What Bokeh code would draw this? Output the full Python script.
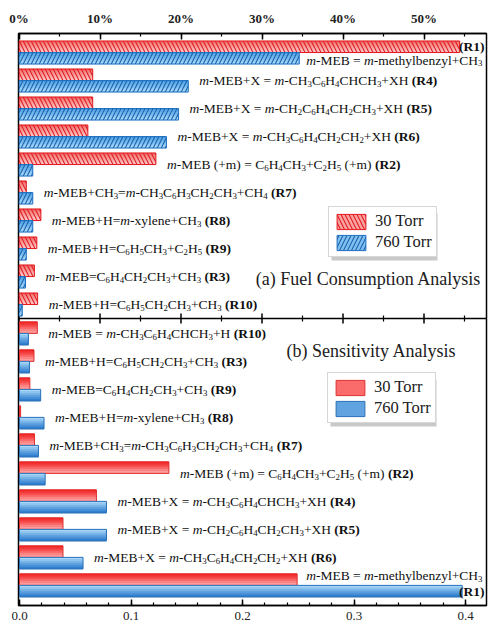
import numpy as np
from bokeh.plotting import figure
from bokeh.models import (Range1d, LinearAxis, SingleIntervalTicker, PrintfTickFormatter,
                          ColumnDataSource, Span, Legend, LegendItem)
from bokeh.core.properties import value
from bokeh.embed import file_html
from bokeh.resources import INLINE

# ---------------------------------------------------------------- data
pressures = ["30 Torr", "760 Torr"]

# (a) fuel consumption (% of m-MEB), reactions from top to bottom
fc_tags = ["R1", "R4", "R5", "R6", "R2", "R7", "R8", "R9", "R3", "R10"]
fc_30 = [54.4, 9.1, 9.1, 8.5, 16.9, 0.9, 2.7, 2.2, 1.9, 2.3]
fc_760 = [34.6, 20.9, 19.7, 18.2, 1.7, 1.7, 1.7, 0.9, 0.8, 0.4]
fc_eqs = [
    "*m*-MEB = *m*-methylbenzyl+CH_3",
    "*m*-MEB+X = *m*-CH_3C_6H_4CHCH_3+XH",
    "*m*-MEB+X = *m*-CH_2C_6H_4CH_2CH_3+XH",
    "*m*-MEB+X = *m*-CH_3C_6H_4CH_2CH_2+XH",
    "*m*-MEB (+m) = C_6H_4CH_3+C_2H_5 (+m)",
    "*m*-MEB+CH_3=*m*-CH_3C_6H_3CH_2CH_3+CH_4",
    "*m*-MEB+H=*m*-xylene+CH_3",
    "*m*-MEB+H=C_6H_5CH_3+C_2H_5",
    "*m*-MEB=C_6H_4CH_2CH_3+CH_3",
    "*m*-MEB+H=C_6H_5CH_2CH_3+CH_3",
]

# (b) sensitivity coefficients, reactions from top to bottom
sa_tags = ["R10", "R3", "R9", "R8", "R7", "R2", "R4", "R5", "R6", "R1"]
sa_30 = [0.016, 0.013, 0.0093, 0.001, 0.0135, 0.134, 0.069, 0.039, 0.039, 0.249]
sa_760 = [0.008, 0.009, 0.019, 0.022, 0.017, 0.023, 0.078, 0.078, 0.057, 0.397]
sa_eqs = [
    "*m*-MEB = *m*-CH_3C_6H_4CHCH_3+H",
    "*m*-MEB+H=C_6H_5CH_2CH_3+CH_3",
    "*m*-MEB=C_6H_4CH_2CH_3+CH_3",
    "*m*-MEB+H=*m*-xylene+CH_3",
    "*m*-MEB+CH_3=*m*-CH_3C_6H_3CH_2CH_3+CH_4",
    "*m*-MEB (+m) = C_6H_4CH_3+C_2H_5 (+m)",
    "*m*-MEB+X = *m*-CH_3C_6H_4CHCH_3+XH",
    "*m*-MEB+X = *m*-CH_2C_6H_4CH_2CH_3+XH",
    "*m*-MEB+X = *m*-CH_3C_6H_4CH_2CH_2+XH",
    "*m*-MEB = *m*-methylbenzyl+CH_3",
]

panel_titles = ["(a) Fuel Consumption Analysis", "(b) Sensitivity Analysis"]

# ---------------------------------------------------------------- geometry
FONT = "Liberation Serif"
LEFT, TOP = 18, 33
FRAME_W, FRAME_H = 468, 572
PITCH = 28.0                      # pixels per reaction row
ROWS = FRAME_H / PITCH
DIV = 10.18                       # divider between the two panels (rows)
TOP0, BOT0 = 0.68, 10.71          # centre of the first group in each panel
BAR_H = 0.41

SENS_START = -1 / 1115
SENS_END = SENS_START + FRAME_W / 1115
PCT_START = -0.5 / 8.1
PCT_END = PCT_START + FRAME_W / 8.1


def px_x(px):
    return SENS_START + (px - LEFT) / FRAME_W * (SENS_END - SENS_START)


def px_y(py):
    return (py - TOP) / PITCH


p = figure(frame_width=FRAME_W, frame_height=FRAME_H,
           min_border_left=LEFT, min_border_right=2, min_border_top=TOP, min_border_bottom=20,
           x_range=Range1d(SENS_START, SENS_END), y_range=Range1d(ROWS, 0),
           y_axis_location=None, output_backend="svg", toolbar_location=None,
           background_fill_color="white", border_fill_color="white")
p.extra_x_ranges = {"pct": Range1d(PCT_START, PCT_END)}
p.xgrid.visible = False
p.ygrid.visible = False
p.outline_line_color = "black"
p.outline_line_width = 1.5

# bottom axis: sensitivity coefficient
bax = p.below[0]
bax.ticker = SingleIntervalTicker(interval=0.1, num_minor_ticks=5)
bax.formatter = PrintfTickFormatter(format="%.1f")
# top axis: fuel consumption percentage
tax = LinearAxis(x_range_name="pct",
                 ticker=SingleIntervalTicker(interval=10, num_minor_ticks=2),
                 formatter=PrintfTickFormatter(format="%d%%"))
p.add_layout(tax, "above")
for ax, style in ((bax, "normal"), (tax, "bold")):
    ax.axis_line_width = 1.5
    ax.major_tick_line_width = 1.5
    ax.minor_tick_line_width = 1.2
    ax.major_tick_in = 6
    ax.major_tick_out = 0
    ax.minor_tick_in = 3
    ax.minor_tick_out = 0
    ax.major_label_text_font = FONT
    ax.major_label_text_font_size = "13px"
    ax.major_label_text_font_style = style
    ax.major_label_text_color = "#222222"
bax.major_label_standoff = 6
tax.major_label_standoff = 8

# divider between panels, carrying the percentage ticks
p.add_layout(Span(location=DIV, dimension="width", line_color="black", line_width=1.5))
maj = np.arange(0, PCT_END, 10)
mnr = np.arange(5, PCT_END, 10)
p.segment(x0=maj, x1=maj, y0=DIV - 5 / PITCH, y1=DIV + 5 / PITCH,
          line_color="black", line_width=1.5, x_range_name="pct")
p.segment(x0=mnr, x1=mnr, y0=DIV - 3 / PITCH, y1=DIV + 3 / PITCH,
          line_color="black", line_width=1.2, x_range_name="pct")


# ---------------------------------------------------------------- bars
def mix(c1, c2, t):
    a = [int(c1[i:i + 2], 16) for i in (1, 3, 5)]
    b = [int(c2[i:i + 2], 16) for i in (1, 3, 5)]
    return "#%02x%02x%02x" % tuple(round(a[k] + (b[k] - a[k]) * t) for k in range(3))


def shaded_bars(ys, vals, c_top, c_bot, line, n=6, rng="default", **hatch):
    ys = np.asarray(ys, dtype=float)
    vals = np.asarray(vals, dtype=float)
    h = BAR_H / n
    strips = []
    for k in range(n):
        yk = ys - BAR_H / 2 + (k + 0.5) * h
        strips.append(p.hbar(y=yk, left=0, right=vals, height=h * 1.3,
                             fill_color=mix(c_top, c_bot, k / (n - 1)), line_color=None,
                             x_range_name=rng))
    edge = p.hbar(y=ys, left=0, right=vals, height=BAR_H, fill_color=None,
                  line_color=line, line_width=1, x_range_name=rng, **hatch)
    return strips[n // 2], edge


top_c = TOP0 + np.arange(len(fc_tags))
bot_c = BOT0 + np.arange(len(sa_tags))

r30a = shaded_bars(top_c - BAR_H / 2, fc_30, "#f37070", "#fcc4c4", "#e4181c", rng="pct",
                   hatch_pattern="left_diagonal_line", hatch_color="#e01c20",
                   hatch_scale=8, hatch_weight=1.1)
r760a = shaded_bars(top_c + BAR_H / 2, fc_760, "#4b9fe2", "#a6d6f8", "#1f6fc0", rng="pct",
                    hatch_pattern="right_diagonal_line", hatch_color="#1a62b0",
                    hatch_scale=8, hatch_weight=1.1)
r30b = shaded_bars(bot_c - BAR_H / 2, sa_30, "#f22424", "#ff9a9a", "#e03030")
r760b = shaded_bars(bot_c + BAR_H / 2, sa_760, "#a8d6f8", "#3280d0", "#2a70b8")

# ---------------------------------------------------------------- reaction labels
REG = {' ': 250, '(': 333, ')': 333, '+': 564, '-': 333, '=': 564, '.': 250, 'A': 722,
       'B': 667, 'C': 667, 'E': 611, 'H': 722, 'M': 889, 'R': 667, 'X': 722, 'T': 611,
       'F': 556, 'S': 556, 'a': 444, 'b': 500, 'c': 444, 'e': 444, 'h': 500, 'l': 278,
       'm': 778, 'n': 500, 't': 278, 'x': 500, 'y': 500, 'z': 444, 'i': 278, 'o': 500,
       'r': 333, 's': 389, 'p': 500, 'u': 500, 'v': 500, 'd': 500, 'g': 500, 'f': 333}
BOLD = {'(': 333, ')': 333, 'R': 722}
ITAL = {'m': 722}
SIZE = 13.5
SUB = 0.65
NBSP = "\u00a0"


def char_w(ch, style):
    table = {"bold": BOLD, "italic": ITAL}.get(style, REG)
    return table.get(ch, REG.get(ch, 500))


def compose(markup, tag):
    raw, italic, i = [], False, 0
    while i < len(markup):
        c = markup[i]
        if c == "*":
            italic = not italic
            i += 1
            continue
        if c == "_":
            raw.append((markup[i + 1], "sub"))
            i += 2
            continue
        raw.append((c, "italic" if italic else "normal"))
        i += 1
    if tag:
        raw += [(" ", "normal"), ("(" + tag + ")", "bold")]
    merged = []
    for txt, st in raw:
        if merged and merged[-1][1] == st:
            merged[-1][0] += txt
        else:
            merged.append([txt, st])
    out, x = [], 0.0
    for txt, st in merged:
        size = SIZE * SUB if st == "sub" else SIZE
        out.append((txt.replace(" ", NBSP), st, x))
        x += sum(char_w(c, st) for c in txt) * size / 1000
    return out, x


label_src = {st: {rng: dict(x=[], y=[], dx=[], dy=[], text=[]) for rng in ("pct", "default")}
             for st in ("normal", "italic", "bold", "sub")}


def put(markup, tag, x, y, rng, shift):
    segs, _ = compose(markup, tag)
    for txt, st, off in segs:
        if not txt.strip(NBSP):
            continue
        d = label_src[st][rng]
        d["x"].append(x)
        d["y"].append(y)
        d["dx"].append(shift + off)
        d["dy"].append(3.2 if st == "sub" else 0.0)
        d["text"].append(txt)


def put_right(markup, tag, x_end, y, rng, gap):
    _, w = compose(markup, tag)
    put(markup, tag, x_end, y, rng, -w - gap)


for c, tag, eq, a, b in zip(top_c, fc_tags, fc_eqs, fc_30, fc_760):
    if tag == "R1":
        put_right(eq, None, PCT_END, c + BAR_H / 2 + 2 / PITCH, "pct", 4)
        put_right("", tag, PCT_END, c - BAR_H / 2, "pct", 2)
    else:
        put(eq, tag, max(a, b), c, "pct", 11)

for c, tag, eq, a, b in zip(bot_c, sa_tags, sa_eqs, sa_30, sa_760):
    if tag == "R1":
        put_right(eq, None, SENS_END, c - BAR_H / 2 - 4 / PITCH, "default", 4)
        put_right("", tag, SENS_END, c + BAR_H / 2, "default", 2)
    else:
        put(eq, tag, max(a, b), c, "default", 11)

for st, by_rng in label_src.items():
    for rng, d in by_rng.items():
        if not d["text"]:
            continue
        p.text(x="x", y="y", text="text", x_offset="dx", y_offset="dy",
               source=ColumnDataSource(d), x_range_name=rng,
               text_font=value(FONT),
               text_font_size=value("%.1fpx" % (SIZE * SUB if st == "sub" else SIZE)),
               text_font_style=value("normal" if st == "sub" else st),
               text_color="#101010", text_baseline="middle", text_align="left")

# panel titles
p.text(x=[px_x(368), px_x(371)], y=[px_y(278), px_y(350)], text=panel_titles,
       text_font=value(FONT), text_font_size=value("18px"), text_color="#202020",
       text_align="center", text_baseline="middle")

# ---------------------------------------------------------------- legends
LEG_W, LEG_H = 106, 47
for (loc_x, loc_y), (ra, rb) in (((310, 348), (r30a, r760a)), ((309, 182), (r30b, r760b))):
    lx = LEFT + loc_x
    ly_bot = TOP + FRAME_H - loc_y
    p.quad(left=px_x(lx + 3), right=px_x(lx + LEG_W + 3),
           top=px_y(ly_bot - LEG_H + 3), bottom=px_y(ly_bot + 3),
           fill_color="#c9c9c9", line_color=None)
    leg = Legend(items=[LegendItem(label=pressures[0], renderers=list(ra)),
                        LegendItem(label=pressures[1], renderers=list(rb))],
                 location=(loc_x, loc_y), glyph_width=36, glyph_height=19,
                 spacing=1, padding=4, margin=0, label_standoff=6,
                 label_text_font=FONT, label_text_font_size="16.5px",
                 label_text_color="#202020", label_height=19,
                 border_line_color="#b0b0b0", border_line_width=1,
                 background_fill_color="white", background_fill_alpha=1)
    p.add_layout(leg)

open("out.html", "w").write(file_html(p, INLINE))
